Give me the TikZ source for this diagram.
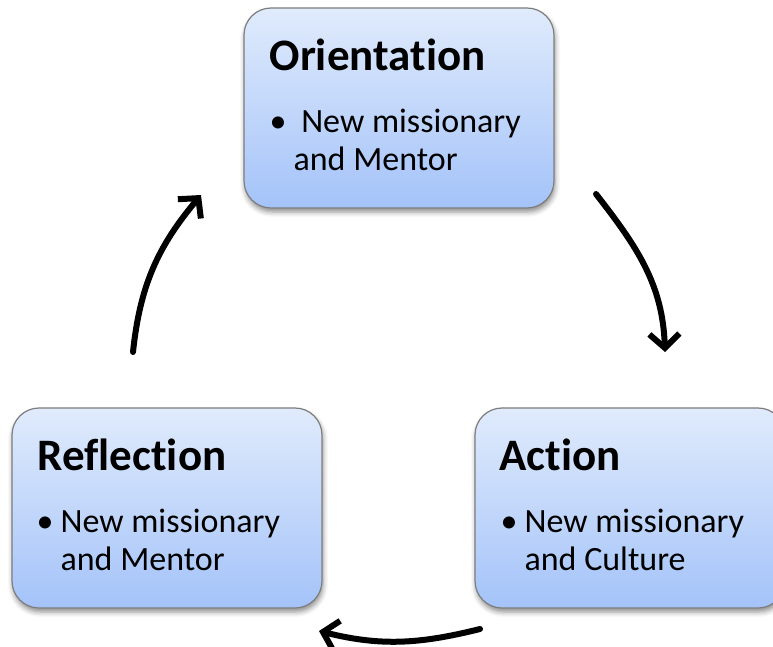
\documentclass[tikz,border=0pt]{standalone}
\usepackage{fontspec}
\setmainfont[Ligatures={NoCommon,NoRequired}]{Carlito}
\usepackage{tikz}
\usetikzlibrary{arrows.meta,positioning,shadows.blur}

\definecolor{boxtop}{RGB}{224,235,252}
\definecolor{boxbottom}{RGB}{164,195,249}
\definecolor{boxline}{RGB}{125,125,125}

\tikzset{
  stagebox/.style={rectangle, rounded corners=27pt, draw=boxline, line width=1.2pt,
    top color=boxtop, bottom color=boxbottom,
    minimum width=310pt, minimum height=200pt, inner sep=0pt,
    blur shadow={shadow xshift=1pt, shadow yshift=-4pt, shadow blur radius=5pt, shadow opacity=45}},
  stagetitle/.style={anchor=base west, inner sep=0pt,
    font=\fontsize{45}{50}\selectfont\bfseries},
  stagebody/.style={anchor=base west, inner sep=0pt,
    font=\fontsize{34}{38}\selectfont},
  cyclearrow/.style={line width=6pt, line cap=round,
    -{Straight Barb[length=14pt,width=30pt,line width=6pt]}}
}

\newcommand{\stageitem}[3][]{%
  \begin{tabular}[t]{@{}l@{}l@{}}
    \makebox[24pt][l]{\textbullet} & #1#2\\
    & #3
  \end{tabular}}

\begin{document}
\begin{tikzpicture}[x=1pt,y=1pt]
\useasboundingbox (0,0) rectangle (773,-646);

% the three stages
\node[stagebox] (orient) at (399,-108) {};
\node[stagebox] (reflect) at (167,-508) {};
\node[stagebox] (act) at (630,-508) {};

\node[stagetitle] (orient-t) at ([xshift=26pt,yshift=-63pt]orient.north west) {Orientation};
\node[stagebody] (orient-b) at ([xshift=26pt,yshift=-125pt]orient.north west)
  {\stageitem[\ ]{New missionary}{and Mentor}};

\node[stagetitle] (reflect-t) at ([xshift=26pt,yshift=-63pt]reflect.north west) {Reflection};
\node[stagebody] (reflect-b) at ([xshift=25pt,yshift=-125pt]reflect.north west)
  {\stageitem{New missionary}{and Mentor}};

\node[stagetitle] (act-t) at ([xshift=25pt,yshift=-63pt]act.north west) {Action};
\node[stagebody] (act-b) at ([xshift=26pt,yshift=-125pt]act.north west)
  {\stageitem{New missionary}{and Culture}};

% arrow ends
\coordinate (orient-out) at (596,-194);
\coordinate (act-in) at (665,-352);
\coordinate (act-out) at (480,-629);
\coordinate (reflect-in) at (319,-631);
\coordinate (reflect-out) at (133,-352);
\coordinate (orient-in) at (201,-195);

% the cycle
\draw[cyclearrow] (orient-out) to[out=-52,in=92] (act-in);
\draw[cyclearrow] (act-out) to[out=194,in=-14] (reflect-in);
\draw[cyclearrow] (reflect-out) to[out=84,in=-130] (orient-in);

\end{tikzpicture}
\end{document}
